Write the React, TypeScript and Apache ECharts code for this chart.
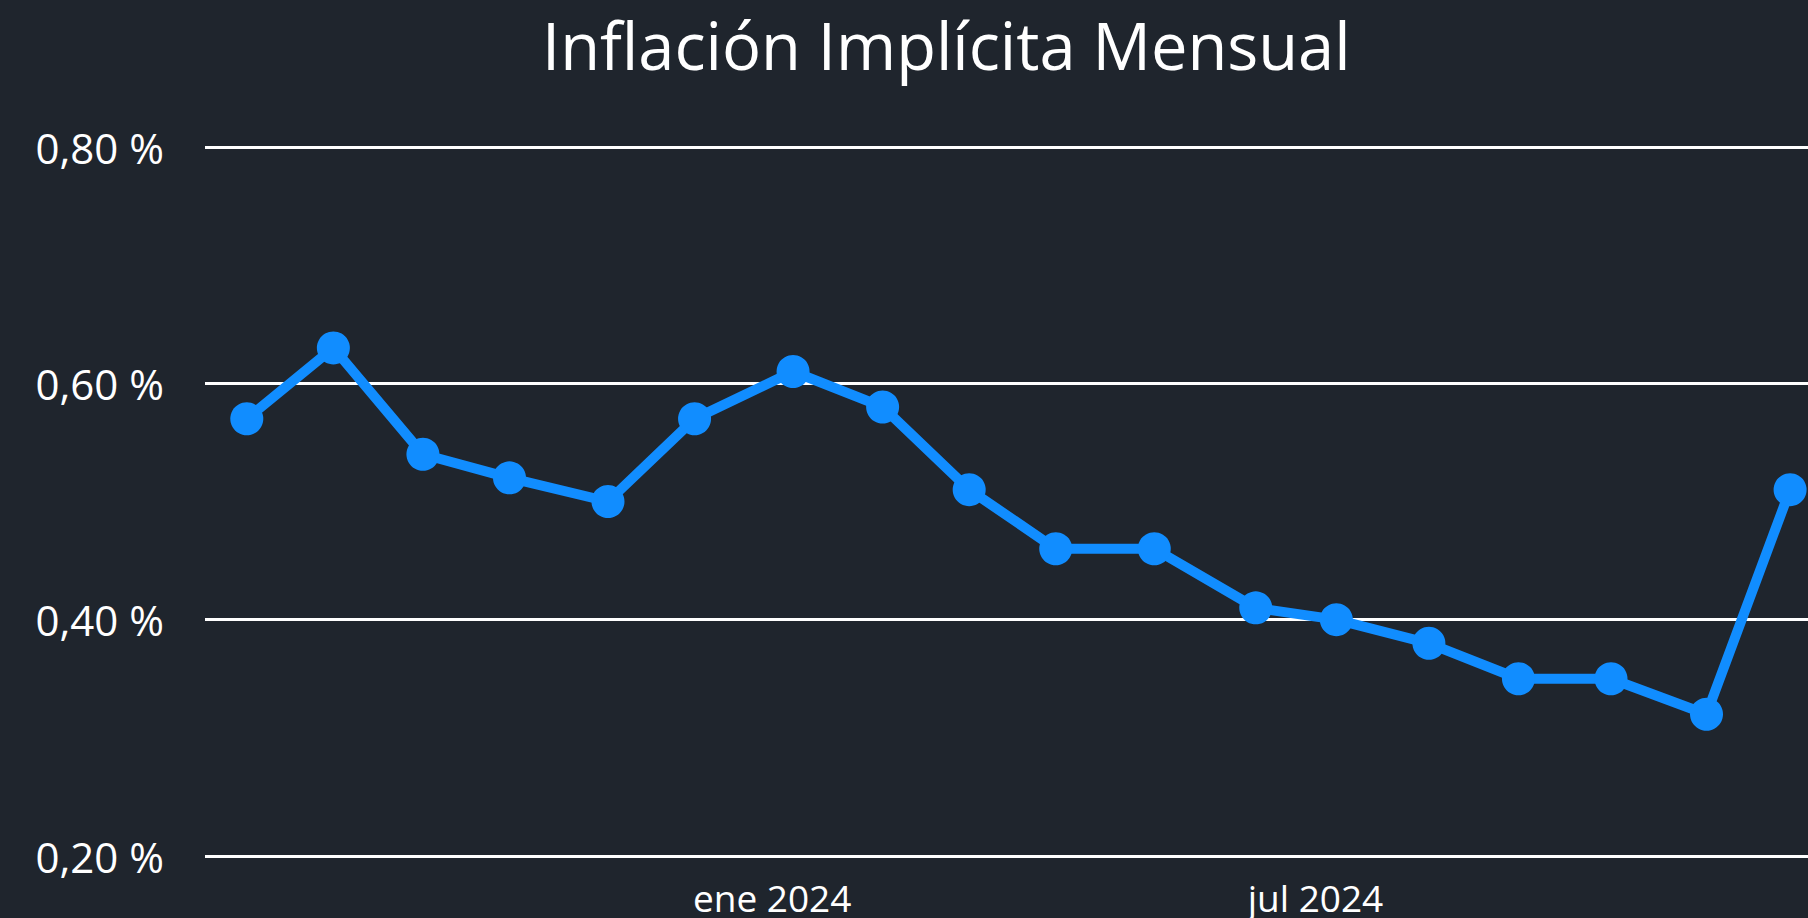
import React, { useEffect, useRef } from "react";
import * as echarts from "echarts";

const TITLE = "Inflación Implícita Mensual";

const dates = [
  "2023-07-09", "2023-08-07", "2023-09-06", "2023-10-05", "2023-11-07", "2023-12-06",
  "2024-01-08", "2024-02-07", "2024-03-07", "2024-04-05", "2024-05-08", "2024-06-11",
  "2024-07-08", "2024-08-08", "2024-09-07", "2024-10-08", "2024-11-09", "2024-12-07",
];
const values = [
  0.57, 0.63, 0.54, 0.52, 0.5, 0.57, 0.61, 0.58, 0.51, 0.46, 0.46, 0.41, 0.4, 0.38, 0.35, 0.35,
  0.32, 0.51,
];
const xTickDates = ["2024-01-01", "2024-07-01"];
const xTickLabels = ["ene 2024", "jul 2024"];
const xRange = ["2023-06-25", "2024-12-13"];
const yMin = 0.2;
const yMax = 0.8;
const yStep = 0.2;

const ts = (s: string) => {
  const [y, m, d] = s.split("-").map(Number);
  return new Date(y, m - 1, d).getTime();
};

export default function App() {
  const ref = useRef<HTMLDivElement>(null);
  useEffect(() => {
    document.body.style.margin = "0";
    const chart = echarts.init(ref.current!, undefined, { renderer: "svg" });
    const tickTs = xTickDates.map(ts);
    chart.setOption({
      animation: false,
      backgroundColor: "#1F252D",
      title: {
        text: TITLE,
        left: 542,
        top: 12,
        padding: 0,
        textStyle: {
          color: "#FFFFFF",
          fontFamily: "Open Sans",
          fontSize: 65,
          fontWeight: "normal",
        },
      },
      grid: { left: 205, right: 0, top: 147, bottom: 62 },
      xAxis: {
        type: "value",
        min: ts(xRange[0]),
        max: ts(xRange[1]),
        axisLine: { show: false },
        axisTick: { show: false },
        splitLine: { show: false },
        axisLabel: {
          customValues: tickTs,
          color: "#FFFFFF",
          fontFamily: "Open Sans",
          fontSize: 37,
          margin: 23,
          formatter: (v: number) => {
            const i = tickTs.indexOf(v);
            return i >= 0 ? xTickLabels[i] : "";
          },
        },
      },
      yAxis: {
        type: "value",
        min: yMin,
        max: yMax,
        interval: yStep,
        axisLine: { show: false },
        axisTick: { show: false },
        splitLine: { lineStyle: { color: "#FFFFFF", width: 3 } },
        axisLabel: {
          color: "#FFFFFF",
          fontFamily: "Open Sans",
          fontSize: 42,
          margin: 41,
          formatter: (v: number) => v.toFixed(2).replace(".", ",") + " %",
        },
      },
      series: [
        {
          type: "line",
          data: dates.map((d, i) => [ts(d), values[i]]),
          symbol: "circle",
          symbolSize: 33,
          showAllSymbol: true,
          lineStyle: { color: "#118DFF", width: 10 },
          itemStyle: { color: "#118DFF" },
          z: 5,
        },
      ],
    });
    return () => chart.dispose();
  }, []);
  return (
    <div
      ref={ref}
      style={{ position: "fixed", left: 0, top: 0, width: 1808, height: 918 }}
    />
  );
}
